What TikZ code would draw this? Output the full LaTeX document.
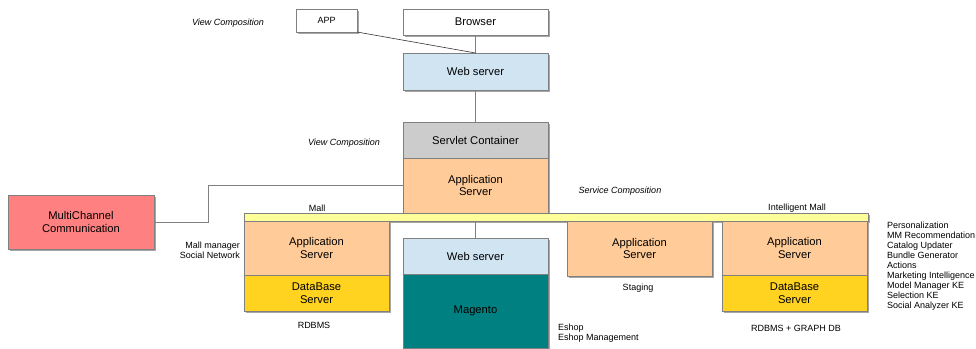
\documentclass[tikz,border=0pt]{standalone}
\usepackage{fontspec}
\setmainfont{Liberation Sans}
\usetikzlibrary{positioning, shadows}

\definecolor{websrv}{HTML}{D0E4F2}
\definecolor{servlet}{HTML}{CCCCCC}
\definecolor{appsrv}{HTML}{FFCC99}
\definecolor{dbsrv}{HTML}{FFD320}
\definecolor{magento}{HTML}{008080}
\definecolor{multi}{HTML}{FF8080}
\definecolor{busline}{HTML}{FFFF99}

\begin{document}
\begin{tikzpicture}[
    x=1pt, y=-1pt,
    srv-box/.style={draw=gray, line width=1pt, inner sep=0pt, outer sep=0pt, align=center, minimum width=145pt,
        font=\fontsize{11.2}{12.5}\selectfont, drop shadow={shadow xshift=2pt, shadow yshift=-2pt, fill=gray!70, opacity=1}},
    lbl/.style={font=\fontsize{9}{10}\selectfont, inner sep=0pt},
    comp/.style={font=\fontsize{9}{10}\selectfont\itshape, inner sep=0pt},
    wire/.style={draw=gray, line width=0.8pt}
  ]

  \useasboundingbox (0,0) rectangle (976,348);

  \node[srv-box, fill=white, minimum width=61pt, minimum height=23pt, font=\fontsize{9}{11}\selectfont] (app) at (326.5,20.5) {APP};
  \node[srv-box, fill=white, minimum height=26pt] (browser) at (475.5,22) {Browser};
  \node[srv-box, fill=websrv, minimum height=37pt] (web) at (475.5,71.5) {Web server};
  \node[srv-box, fill=servlet, minimum height=36pt] (servlet) at (475.5,140) {Servlet Container};
  \node[srv-box, fill=appsrv, minimum height=55pt, below=0pt of servlet] (app-srv) {Application\\Server};

  \node[srv-box, fill=multi, minimum width=146pt, minimum height=54pt] (multi) at (81,222) {MultiChannel\\Communication};

  \node[srv-box, fill=busline, minimum width=624pt, minimum height=8pt] (bus) at (556,217) {};

  \node[srv-box, fill=appsrv, minimum height=54pt, anchor=north west] (mall-app) at (bus.south west) {Application\\Server};
  \node[srv-box, fill=dbsrv, minimum height=36pt, below=0pt of mall-app] (mall-db) {DataBase\\Server};

  \node[srv-box, fill=websrv, minimum height=36pt] (web2) at (475.5,256) {Web server};
  \node[srv-box, fill=magento, minimum height=74pt, below=0pt of web2] (magento) {Magento};

  \node[srv-box, fill=appsrv, minimum height=55pt, anchor=north west] (stage-app) at (567,221) {Application\\Server};

  \node[srv-box, fill=appsrv, minimum height=54pt, anchor=north west] (im-app) at (722,221) {Application\\Server};
  \node[srv-box, fill=dbsrv, minimum height=36pt, below=0pt of im-app] (im-db) {DataBase\\Server};

  \draw[wire] (browser) -- (web);
  \draw[wire, draw=gray!40!black, line width=0.6pt] (app.south east) -- (web.north);
  \draw[wire] (web) -- (servlet);
  \draw[wire] (multi.east) -- ++(54,0) |- (app-srv.west);
  \draw[wire] (web2.north |- bus.south) -- (web2.north);

  \node[comp] (vc-top) at (228,23) {View Composition};
  \node[comp] (vc-mid) at (344,143) {View Composition};
  \node[comp] (sc) at (620,191) {Service Composition};

  \node[lbl] (mall) at (317,208) {Mall};
  \node[lbl] (imall) at (797,208) {Intelligent Mall};
  \node[lbl, align=right, anchor=east] (mall-roles) at (240,250) {Mall manager\\Social Network};
  \node[lbl] (rdbms) at (314,325) {RDBMS};
  \node[lbl] (staging) at (638,288) {Staging};
  \node[lbl, align=left, anchor=west] (eshop) at (558,333) {Eshop\\Eshop Management};
  \node[lbl] (rdbms-graph) at (796,328) {RDBMS + GRAPH DB};
  \node[lbl, align=left, anchor=north west] (im-roles) at (887,222) {Personalization\\MM Recommendation\\Catalog Updater\\Bundle Generator\\Actions\\Marketing Intelligence\\Model Manager KE\\Selection KE\\Social Analyzer KE};

\end{tikzpicture}
\end{document}
